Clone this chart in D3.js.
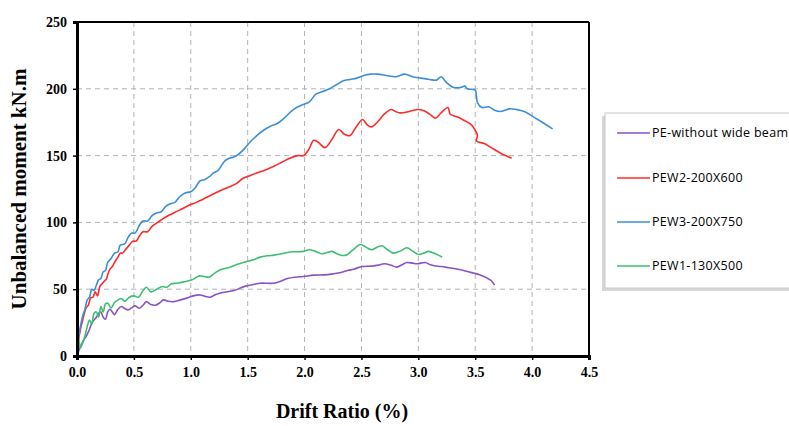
<!DOCTYPE html>
<html>
<head>
<meta charset="utf-8">
<script src="https://cdn.jsdelivr.net/npm/d3@7"></script>
<style>
  html, body { margin: 0; padding: 0; background: #fff; }
  svg { display: block; }
</style>
</head>
<body>
<svg id="chart" width="789" height="426"></svg>
<script>
// ---------------- DATA ----------------
const xTicks = [0, 0.5, 1.0, 1.5, 2.0, 2.5, 3.0, 3.5, 4.0, 4.5];
const yTicks = [0, 50, 100, 150, 200, 250];
const seriesNames = ["PE-without wide beam", "PEW2-200X600", "PEW3-200X750", "PEW1-130X500"];
const seriesColors = ["#8a52c6", "#ff2b2b", "#3b8fd9", "#3dbf74"];

// [drift ratio %, moment kN.m]
const peData = [[0,0],[0.03,7],[0.06,12],[0.08,14.5],[0.11,20],[0.13,24.5],[0.15,27],[0.17,29],[0.19,32],[0.21,33],[0.23,29],[0.25,27.5],[0.27,33],[0.29,35],[0.31,33],[0.33,31],[0.36,35],[0.39,37],[0.42,35.5],[0.45,34.5],[0.48,36],[0.51,37.5],[0.55,35.7],[0.58,38],[0.61,40.7],[0.65,38.5],[0.69,38],[0.73,40],[0.76,42],[0.80,41],[0.85,40.7],[0.91,42],[0.97,43.5],[1.02,45],[1.08,45.7],[1.13,44.5],[1.17,44],[1.22,46],[1.28,47.5],[1.38,49],[1.44,51],[1.49,52.5],[1.55,53.5],[1.61,54.5],[1.73,54.5],[1.79,56],[1.85,58],[1.92,59],[1.99,59.5],[2.08,60.5],[2.17,60.7],[2.25,61.5],[2.32,62.5],[2.38,64],[2.43,65],[2.51,67],[2.59,67.3],[2.65,68],[2.70,69],[2.76,68],[2.81,66.5],[2.86,68.5],[2.90,70],[2.95,69.5],[2.99,69],[3.06,70],[3.10,68.5],[3.14,67.5],[3.20,67],[3.27,66],[3.37,64.5],[3.44,63],[3.49,62],[3.55,60.5],[3.60,58.5],[3.64,56.5],[3.67,53]];

const pew2Data = [[0,0],[0.01,10],[0.03,20],[0.05,27],[0.08,36],[0.10,38],[0.12,43.5],[0.14,44],[0.16,48],[0.18,45],[0.20,52],[0.22,54],[0.24,56],[0.26,58],[0.27,61],[0.29,65],[0.31,67],[0.33,70],[0.36,74],[0.38,77],[0.40,77],[0.43,80],[0.46,83],[0.49,86],[0.52,86],[0.55,90],[0.58,93],[0.62,93],[0.66,97],[0.71,100],[0.76,103],[0.80,105],[0.85,107],[0.92,110],[0.99,113],[1.05,115],[1.10,117],[1.17,120],[1.24,123],[1.32,126],[1.40,129],[1.46,133],[1.52,135],[1.58,137],[1.65,139],[1.73,142],[1.80,145],[1.87,148],[1.94,150],[1.99,150],[2.04,155],[2.08,161.5],[2.12,160],[2.18,156],[2.24,162],[2.30,169.5],[2.35,166],[2.40,165],[2.45,171],[2.51,177],[2.55,173],[2.59,171.5],[2.64,175],[2.70,181],[2.76,184.5],[2.80,183],[2.84,182],[2.92,183],[3.00,184.5],[3.05,183.5],[3.10,181],[3.15,178],[3.20,182],[3.26,186],[3.28,181],[3.34,179],[3.40,176.5],[3.46,173.5],[3.50,169],[3.52,165],[3.51,161],[3.58,159],[3.64,156],[3.72,152],[3.82,148]];

const pew3Data = [[0,0],[0.01,12],[0.03,22],[0.05,30],[0.07,35],[0.09,42],[0.11,44],[0.13,50],[0.15,49],[0.17,53],[0.19,57],[0.21,58],[0.23,63],[0.25,64],[0.27,70],[0.30,73],[0.33,77],[0.36,78],[0.38,83],[0.42,84],[0.45,89],[0.48,92],[0.51,92],[0.55,98],[0.58,101],[0.62,101],[0.66,105],[0.70,107],[0.74,108],[0.78,112],[0.82,114],[0.86,115],[0.90,119],[0.95,122],[1.00,123],[1.04,126],[1.08,131],[1.12,132],[1.16,134],[1.20,137],[1.24,139],[1.30,146],[1.34,148],[1.38,149],[1.42,151],[1.47,155],[1.52,160],[1.58,165],[1.64,169],[1.70,172],[1.76,174],[1.82,178],[1.88,183],[1.93,186],[1.98,188],[2.04,190],[2.10,196],[2.16,198],[2.22,200],[2.28,203],[2.34,206],[2.40,207],[2.46,208],[2.52,210],[2.58,211],[2.64,211],[2.72,210],[2.80,209],[2.88,211],[2.95,209],[3.02,208],[3.10,207],[3.16,206.5],[3.20,209],[3.25,204.5],[3.31,201],[3.37,201],[3.41,202],[3.43,200],[3.50,199],[3.51,195],[3.52,189.5],[3.56,186],[3.62,186.5],[3.67,184],[3.72,183],[3.80,185],[3.86,184.5],[3.93,183],[4.05,177],[4.18,170]];

const pew1Data = [[0,0],[0.005,8],[0.01,15],[0.02,10],[0.03,6],[0.05,10],[0.07,15],[0.09,22],[0.11,27],[0.13,24],[0.15,32],[0.17,33],[0.19,29],[0.21,37],[0.23,33],[0.25,39],[0.27,39.5],[0.30,36],[0.33,40],[0.36,42],[0.39,43],[0.42,41],[0.46,44],[0.50,45],[0.54,44],[0.58,49],[0.61,51.5],[0.65,48],[0.70,50],[0.75,52],[0.79,51.5],[0.83,54],[0.88,54.5],[0.94,55.5],[1.01,57],[1.05,59],[1.08,60],[1.12,59.5],[1.16,59],[1.21,62],[1.26,64.5],[1.32,65.8],[1.39,68],[1.46,70],[1.55,72],[1.61,74],[1.67,75],[1.73,75.5],[1.79,76.3],[1.85,77.5],[1.90,78],[1.99,78.3],[2.04,79.5],[2.09,78.5],[2.15,76.5],[2.20,77.5],[2.24,78.3],[2.30,76],[2.36,75.3],[2.42,79],[2.49,83.5],[2.54,81.5],[2.59,79.5],[2.64,81.5],[2.68,82.5],[2.73,79.5],[2.78,77],[2.84,78.5],[2.90,81],[2.95,78.5],[3.00,76],[3.05,77],[3.09,78.3],[3.15,76.5],[3.21,74]];

const seriesData = [peData, pew2Data, pew3Data, pew1Data];

// ---------------- CHART ----------------
const svg = d3.select("#chart");
const L = 77, R = 589, T = 22, B = 356;

const x = d3.scaleLinear().domain([0, 4.5]).range([L, R]);
const y = d3.scaleLinear().domain([0, 250]).range([B, T]);

// grid
const grid = svg.append("g");
grid.selectAll("line.vg").data(xTicks.slice(1, -1)).join("line")
  .attr("x1", d => x(d)).attr("x2", d => x(d)).attr("y1", T).attr("y2", B)
  .attr("stroke", "#b3b3b3").attr("stroke-width", 1).attr("stroke-dasharray", "5,4");
grid.selectAll("line.hg").data(yTicks.slice(1, -1)).join("line")
  .attr("x1", L).attr("x2", R).attr("y1", d => y(d)).attr("y2", d => y(d))
  .attr("stroke", "#b3b3b3").attr("stroke-width", 1).attr("stroke-dasharray", "5,4");

// series
const line = d3.line().x(d => x(d[0])).y(d => y(d[1])).curve(d3.curveCatmullRom.alpha(0.5));
svg.append("g").selectAll("path").data(seriesData).join("path")
  .attr("d", d => line(d))
  .attr("fill", "none")
  .attr("stroke", (d, i) => seriesColors[i])
  .attr("stroke-width", 1.6)
  .attr("stroke-linejoin", "round");

// frame
svg.append("line").attr("x1", L).attr("x2", R).attr("y1", T).attr("y2", T).attr("stroke", "#000").attr("stroke-width", 2);
svg.append("line").attr("x1", R).attr("x2", R).attr("y1", T).attr("y2", B).attr("stroke", "#000").attr("stroke-width", 2);

// axes
const xAxis = d3.axisBottom(x).tickValues(xTicks).tickFormat(d3.format(".1f")).tickSize(4).tickPadding(7);
const yAxis = d3.axisLeft(y).tickValues(yTicks).tickFormat(d3.format("d")).tickSize(4).tickPadding(6);

const gx = svg.append("g").attr("transform", `translate(0,${B})`).call(xAxis);
const gy = svg.append("g").attr("transform", `translate(${L},0)`).call(yAxis);
[gx, gy].forEach(g => {
  g.select(".domain").attr("stroke", "#000").attr("stroke-width", 3);
  g.selectAll(".tick line").attr("stroke", "#000").attr("stroke-width", 1.5);
  g.selectAll(".tick text")
    .attr("font-family", "'Liberation Serif', 'Times New Roman', serif")
    .attr("font-weight", "bold").attr("font-size", 14).attr("fill", "#000");
});

// axis titles
svg.append("text")
  .attr("x", 342).attr("y", 418)
  .attr("text-anchor", "middle")
  .attr("font-family", "'Liberation Serif', 'Times New Roman', serif")
  .attr("font-weight", "bold").attr("font-size", 20)
  .text("Drift Ratio (%)");

svg.append("text")
  .attr("transform", "translate(26,189) rotate(-90)")
  .attr("text-anchor", "middle")
  .attr("font-family", "'Liberation Serif', 'Times New Roman', serif")
  .attr("font-weight", "bold").attr("font-size", 21)
  .text("Unbalanced moment kN.m");

// legend
const lg = svg.append("g");
lg.append("rect").attr("x", 602).attr("y", 116).attr("width", 200).attr("height", 175).attr("fill", "#d6d6d6");
lg.append("rect").attr("x", 605).attr("y", 113).attr("width", 200).attr("height", 175)
  .attr("fill", "#fff").attr("stroke", "#c8c8c8").attr("stroke-width", 1);
const legY = [133, 178, 222, 266];
seriesNames.forEach((name, i) => {
  lg.append("line").attr("x1", 617).attr("x2", 650).attr("y1", legY[i]).attr("y2", legY[i])
    .attr("stroke", seriesColors[i]).attr("stroke-width", 1.6);
  lg.append("text").attr("x", 652).attr("y", legY[i]).attr("dy", "0.35em")
    .attr("font-family", "'Open Sans', Lato, sans-serif").attr("font-size", 12.5)
    .attr("letter-spacing", 0.3).attr("fill", "#000")
    .text(name);
});
</script>
</body>
</html>
